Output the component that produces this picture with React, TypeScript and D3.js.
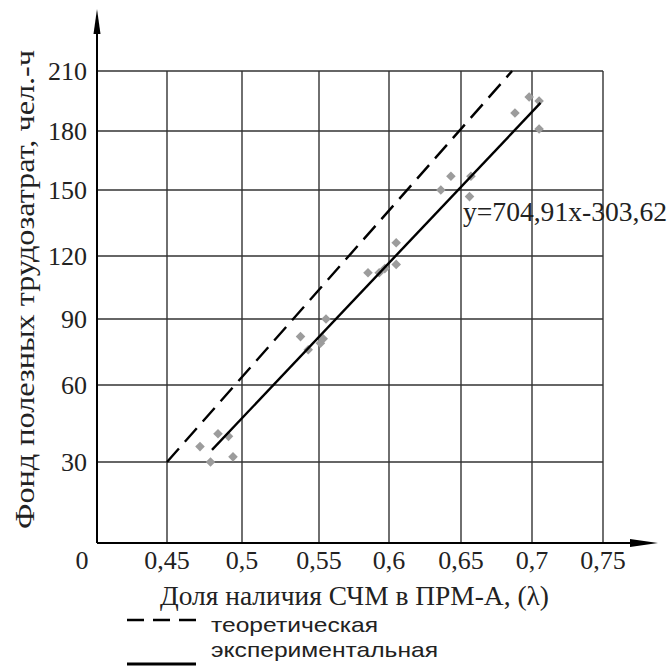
import React from 'react';
import * as d3 from 'd3';

// axis ticks
const xTicks = [0.45, 0.5, 0.55, 0.6, 0.65, 0.7, 0.75];
const xTickLabels = ['0,45', '0,5', '0,55', '0,6', '0,65', '0,7', '0,75'];
const yTicks = [30, 60, 90, 120, 150, 180, 210];

// experimental points (share of SChM, labour fund)
const pointX = [0.472, 0.479, 0.484, 0.491, 0.494, 0.538, 0.543, 0.551, 0.553, 0.555, 0.585, 0.593, 0.597,
  0.605, 0.605, 0.636, 0.643, 0.657, 0.656, 0.688, 0.698, 0.705, 0.705];
const pointY = [36, 30, 41, 40, 32, 82, 76, 79, 81, 90, 112, 112, 114,
  126, 116, 150, 157, 157, 147, 189, 197, 195, 181];

// regression y = 704,91x - 303,62
const slope = 704.91;
const intercept = -303.62;
const expX = [0.48, 0.706];
// theoretical line
const theoX = [0.45, 0.686];
const theoY = [30, 210];

const legendLabels = ['теоретическая', 'экспериментальная'];
const xTitle = 'Доля наличия СЧМ в ПРМ-А, (λ)';
const yTitle = 'Фонд полезных трудозатрат, чел.-ч';
const equation = 'y=704,91x-303,62';

const W = 669;
const H = 667;
const serif = '"Liberation Serif", "Times New Roman", serif';
const sans = '"Liberation Sans", Arial, sans-serif';

// the original grid is drawn unevenly, so the scales are piecewise
const x = d3.scaleLinear().domain([0, ...xTicks]).range([97, 167, 242, 319, 389, 461, 532, 603]);
const y = d3.scaleLinear().domain([0, ...yTicks]).range([543, 462, 385, 319, 256, 190, 131, 71]);

const App = () => {
  const line = d3.line<[number, number]>().x(d => x(d[0])).y(d => y(d[1]));
  const expPts: [number, number][] = expX.map(v => [v, slope * v + intercept]);
  const theoPts: [number, number][] = theoX.map((v, i) => [v, theoY[i]]);
  const marker = d3.symbol().type(d3.symbolSquare).size(46)();
  const x0 = x(0), y0 = y(0);
  const xEnd = x(0.75), yTop = y(210);

  return (
    <svg width={W} height={H} style={{ position: 'absolute', left: 0, top: 0, background: '#fff' }}>
      {/* grid */}
      <g stroke="#333" strokeWidth={1.4}>
        {yTicks.map(t => (
          <line key={'h' + t} x1={x0} x2={xEnd} y1={y(t)} y2={y(t)} />
        ))}
        {xTicks.map(t => (
          <line key={'v' + t} x1={x(t)} x2={x(t)} y1={y0} y2={yTop} />
        ))}
      </g>

      {/* axes with arrows */}
      <g stroke="#000" strokeWidth={2}>
        <line x1={x0} x2={x0} y1={y0} y2={16} />
        <line x1={x0} x2={650} y1={y0} y2={y0} />
      </g>
      <polygon points={`${x0},9 ${x0 + 3.5},34 ${x0 - 3.5},34`} fill="#000" />
      <polygon points={`658,${y0} 630,${y0 - 4} 630,${y0 + 4}`} fill="#000" />

      {/* tick labels */}
      <g fontFamily={serif} fontSize={26} fill="#222">
        {yTicks.map(t => (
          <text key={'yl' + t} x={87} y={y(t)} textAnchor="end" dominantBaseline="central">{t}</text>
        ))}
        {xTicks.map((t, i) => (
          <text key={'xl' + t} x={x(t)} y={569} textAnchor="middle">{xTickLabels[i]}</text>
        ))}
        <text x={x0 - 15} y={569} textAnchor="middle">0</text>
      </g>

      {/* points */}
      <g fill="#9c9c9c">
        {pointX.map((v, i) => (
          <path key={'p' + i} d={marker!} transform={`translate(${x(v)},${y(pointY[i])}) rotate(45)`} />
        ))}
      </g>

      {/* lines */}
      <path d={line(theoPts)!} fill="none" stroke="#000" strokeWidth={2.4} strokeDasharray="18 9" />
      <path d={line(expPts)!} fill="none" stroke="#000" strokeWidth={2.4} />

      <text x={x(0.65) + 2} y={221} fontFamily={serif} fontSize={27} fill="#222"
        textLength={204} lengthAdjust="spacingAndGlyphs">{equation}</text>

      {/* axis titles */}
      <text x={160} y={605} fontFamily={serif} fontSize={27} fill="#222"
        textLength={389} lengthAdjust="spacingAndGlyphs">{xTitle}</text>
      <text transform="translate(34,529) rotate(-90)" fontFamily={serif} fontSize={28} fill="#222"
        textLength={479} lengthAdjust="spacingAndGlyphs">{yTitle}</text>

      {/* legend */}
      <line x1={127} x2={196} y1={620} y2={620} stroke="#000" strokeWidth={2.4} strokeDasharray="17 9" />
      <text x={211} y={632} fontFamily={sans} fontSize={21} fill="#222"
        textLength={167} lengthAdjust="spacingAndGlyphs">{legendLabels[0]}</text>
      <line x1={127} x2={196} y1={664} y2={664} stroke="#000" strokeWidth={3} />
      <text x={211} y={657} fontFamily={sans} fontSize={21} fill="#222"
        textLength={227} lengthAdjust="spacingAndGlyphs">{legendLabels[1]}</text>
    </svg>
  );
};

export default App;
